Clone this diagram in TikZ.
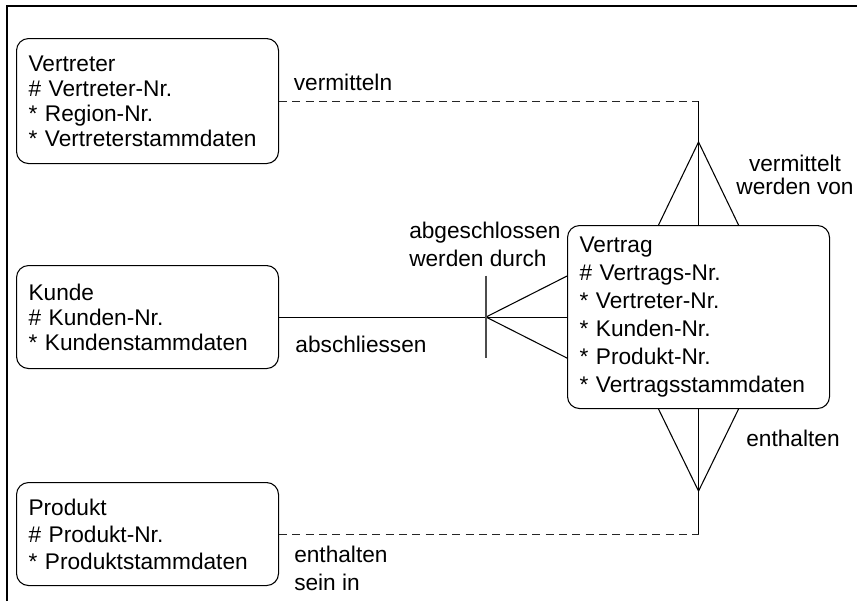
\documentclass[tikz,border=0pt]{standalone}
\usepackage{fontspec}
\setmainfont{Liberation Sans}
\usetikzlibrary{positioning}

\tikzset{
  entity/.style={draw, rounded corners=9pt, anchor=north west, align=left,
    inner xsep=9pt, text width=178.5pt, line width=0.8pt,
    font=\fontsize{17}{#1}\selectfont},
  rel/.style={line width=0.8pt},
  optional/.style={rel, dash pattern=on 6pt off 4pt, draw=black!85},
  lbl/.style={inner sep=0pt, font=\fontsize{17}{#1}\selectfont},
  lbl/.default=20pt
}

\begin{document}
\begin{tikzpicture}[x=0.75pt,y=-0.75pt]
	\useasboundingbox (0,0) rectangle (857,601);
	\draw[line width=1.5pt] (7,601) -- (7,6) -- (857,6);

	% Entitaeten
	\node[entity=18.75pt, minimum height=93.75pt] (vertreter) at (16,38)
		{Vertreter\\\# Vertreter-Nr.\\{*} Region-Nr.\\{*} Vertreterstammdaten};
	\node[entity=18.75pt, minimum height=77.25pt] (kunde) at (16,265)
		{Kunde\\\# Kunden-Nr.\\{*} Kundenstammdaten};
	\node[entity=20.25pt, minimum height=77.25pt] (produkt) at (16,482)
		{Produkt\\\# Produkt-Nr.\\{*} Produktstammdaten};
	\node[entity=21pt, minimum height=137.25pt] (vertrag) at (567,225)
		{Vertrag\\\# Vertrags-Nr.\\{*} Vertreter-Nr.\\{*} Kunden-Nr.\\{*} Produkt-Nr.\\{*} Vertragsstammdaten};

	% Beziehung Vertreter - Vertrag
	\coordinate[above=62.25pt of vertrag.north] (vfuss);
	\draw[optional] (vertreter.east) -- (vertreter.east -| vertrag.north) coordinate (vknick);
	\draw[rel] (vknick) -- (vfuss) -- (vertrag.north);
	\draw[rel] ([xshift=-30pt]vertrag.north) -- (vfuss) -- ([xshift=30pt]vertrag.north);

	% Beziehung Kunde - Vertrag
	\coordinate[left=60.75pt of vertrag.west] (kfuss);
	\draw[rel] (kunde.east) -- (kfuss) -- (vertrag.west);
	\draw[rel] ([yshift=30.75pt]vertrag.west) -- (kfuss) -- ([yshift=-30.75pt]vertrag.west);
	\draw[rel, draw=black!70] ([yshift=31pt]kfuss) -- ([yshift=-31pt]kfuss);

	% Beziehung Produkt - Vertrag
	\coordinate[below=61.5pt of vertrag.south] (pfuss);
	\draw[optional] (produkt.east) -- (produkt.east -| vertrag.south) coordinate (pknick);
	\draw[rel] (pknick) -- (pfuss) -- (vertrag.south);
	\draw[rel] ([xshift=-30pt]vertrag.south) -- (pfuss) -- ([xshift=30pt]vertrag.south);

	% Beschriftungen
	\node[lbl] (vermitteln) at (343,82) {vermitteln};
	\node[lbl=17pt, align=center] (vermitteltvon) at (795,175) {vermittelt\\werden von};
	\node[lbl=21pt, align=left, anchor=west] (abgeschlossen) at (409,244) {abgeschlossen\\werden durch};
	\node[lbl] (abschliessen) at (361,344) {abschliessen};
	\node[lbl] (enthalten) at (793,438) {enthalten};
	\node[lbl=21pt, align=left, anchor=west] (enthaltensein) at (294,568) {enthalten\\sein in};
\end{tikzpicture}
\end{document}
